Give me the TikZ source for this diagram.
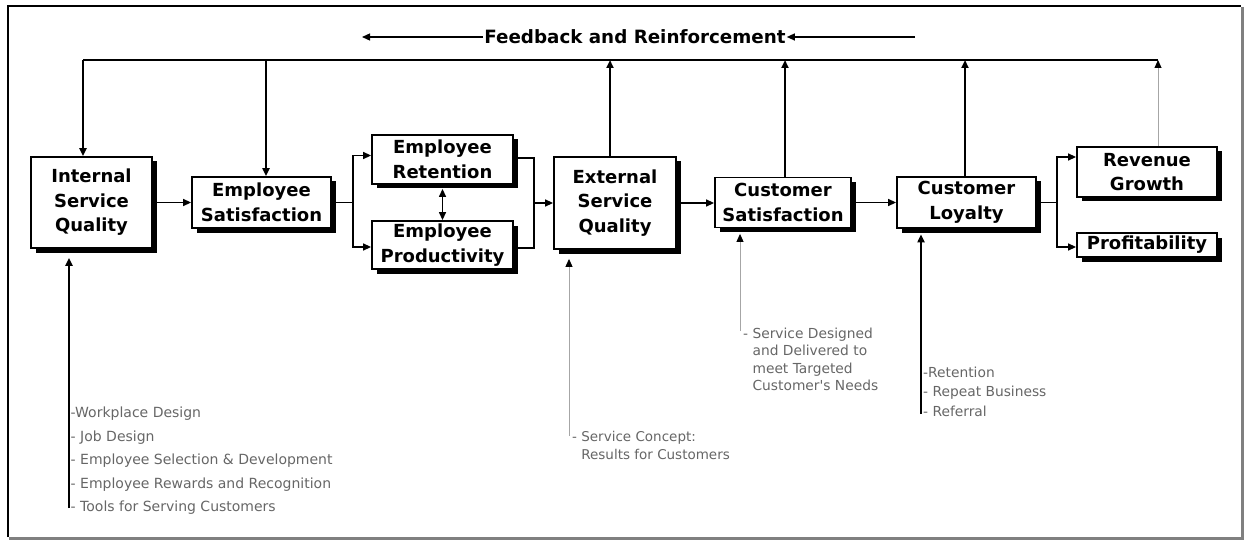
\documentclass[tikz,border=0pt]{standalone}
\usepackage{fontspec}
\newfontfamily\dvs{DejaVu Sans}
\usetikzlibrary{arrows.meta,shadows}
\begin{document}
\begin{tikzpicture}[x=1pt,y=-1pt,
  bx/.style={draw=black, line width=1.8pt, fill=white, inner sep=0pt, align=center,
    font=\dvs\bfseries\fontsize{18}{24.5}\selectfont,
    drop shadow={shadow xshift=4.5pt, shadow yshift=-4.5pt, fill=black, opacity=1}},
  ln/.style={line width=1.3pt},
  tk/.style={line width=2.2pt},
  gr/.style={line width=0.9pt, draw=black!35},
  tip/.style={-{Triangle[length=8pt,width=7pt]}},
  gtip/.style={-{Triangle[length=8pt,width=7pt,color=black]}},
  dtip/.style={{Triangle[length=8pt,width=7pt]}-{Triangle[length=8pt,width=7pt]}},
  lst/.style={font=\dvs\fontsize{14}{23.5}\selectfont, text=black!60, align=left, inner sep=0pt, anchor=north west},
]
\useasboundingbox (0,0) rectangle (1244,540);
% frame
\draw[line width=2pt] (8,537) -- (8,6) -- (1241,6);
\draw[line width=3pt, black!50] (1242,7) -- (1242,538.5) -- (9,538.5);

% boxes
\node[bx, minimum width=121pt, minimum height=91pt] (isq) at (91.5,202.5) {Internal\\Service\\Quality};
\node[bx, minimum width=139pt, minimum height=51pt] (es) at (261.5,202.5) {Employee\\Satisfaction};
\node[bx, minimum width=141pt, minimum height=49pt] (er) at (442.5,159.5) {Employee\\Retention};
\node[bx, minimum width=141pt, minimum height=48pt] (ep) at (442.5,245) {Employee\\Productivity};
\node[bx, minimum width=122pt, minimum height=92pt] (esq) at (615,203) {External\\Service\\Quality};
\node[bx, minimum width=136pt, minimum height=50pt] (cs) at (783,202.5) {Customer\\Satisfaction};
\node[bx, minimum width=139pt, minimum height=51pt] (cl) at (966.5,202.5) {Customer\\Loyalty};
\node[bx, minimum width=140pt, minimum height=50pt] (rg) at (1147,172) {Revenue\\Growth};
\node[bx, minimum width=140pt, minimum height=24pt] (pf) at (1147,245) {Profitability};

% feedback title
\node[font=\dvs\bfseries\fontsize{18.3}{20}\selectfont, inner sep=1pt] (fb) at (635,37) {Feedback and Reinforcement};
\coordinate (fbl) at (362,37);
\coordinate (fbr) at (915,37);
\draw[ln,tip] (fb.west) -- (fbl);
\draw[ln,tip] (fbr) -- (fb.east);

% feedback loop
\coordinate (f1) at (83,60);
\coordinate (f2) at (266,60);
\coordinate (f3) at (610,60);
\coordinate (f4) at (785,60);
\coordinate (f5) at (965,60);
\coordinate (f6) at (1158,60);
\draw[tk] (f1) -- (f6);
\draw[tk,tip] (f1) -- (f1 |- isq.north);
\draw[tk,tip] (f2) -- (f2 |- es.north);
\draw[tk,tip] (f3 |- esq.north) -- (f3);
\draw[tk,tip] (f4 |- cs.north) -- (f4);
\draw[tk,tip] (f5 |- cl.north) -- (f5);
\draw[gr,gtip] (f6 |- rg.north) -- (f6);

% main chain
\draw[ln,tip] (isq.east) -- (es.west);
\coordinate (ka) at (353,202.5);
\draw[ln] (es.east) -- (ka);
\draw[ln,tip] (ka) |- ([yshift=4pt]er.west);
\draw[ln,tip] (ka) |- ([yshift=-2pt]ep.west);
\draw[ln,dtip,shorten <=4pt] (er.south) -- (ep.north);
\coordinate (kb) at (534,203);
\draw[ln] ([yshift=1.5pt]er.east) -| (kb) |- ([yshift=-3pt]ep.east);
\draw[ln,tip] (kb) -- (esq.west);
\draw[ln,tip] (esq.east) -- (esq.east -| cs.west);
\draw[ln,tip] (cs.east) -- (cl.west);
\coordinate (kc) at (1057,202.5);
\draw[ln] (cl.east) -- (kc);
\draw[ln,tip] (kc) |- ([yshift=15pt]rg.west);
\draw[ln,tip] (kc) |- ([yshift=-2pt]pf.west);

% drivers
\coordinate (s1) at (69,508);
\draw[tk,tip,shorten >=9pt] (s1) -- (s1 |- isq.south);
\node[lst] (l1) at (70.5,407) {-Workplace Design\\- Job Design\\- Employee Selection \& Development\\- Employee Rewards and Recognition\\- Tools for Serving Customers};

\coordinate (s2) at (569,436);
\draw[gr,gtip,shorten >=9pt] (s2) -- (s2 |- esq.south);
\node[lst, font=\dvs\fontsize{13.5}{18}\selectfont] (l2) at (572,431.5) {- Service Concept:\\\phantom{- }Results for Customers};

\coordinate (s3) at (740,331);
\draw[gr,gtip,shorten >=5.5pt] (s3) -- (s3 |- cs.south);
\node[lst, font=\dvs\fontsize{13.8}{17.3}\selectfont] (l3) at (743,328) {- Service Designed\\\phantom{- }and Delivered to\\\phantom{- }meet Targeted\\\phantom{- }Customer's Needs};

\coordinate (s4) at (921,414);
\draw[tk,tip,shorten >=5.5pt] (s4) -- (s4 |- cl.south);
\node[lst, font=\dvs\fontsize{13.8}{19.5}\selectfont] (l4) at (923,366.5) {-Retention\\- Repeat Business\\- Referral};
\end{tikzpicture}
\end{document}
